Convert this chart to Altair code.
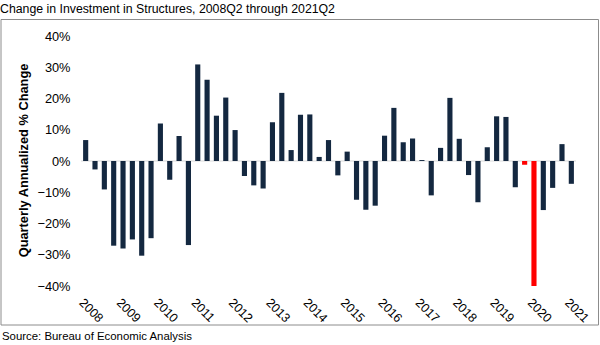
import altair as alt
import pandas as pd

quarters = [f"{y}Q{q}" for y in range(2008, 2022) for q in range(1, 5)]
quarters = quarters[1:quarters.index("2021Q2") + 1]

values = [6.7, -2.7, -9.1,
          -27.1, -28.0, -25.1, -30.3,
          -24.7, 12.0, -6.0, 8.0,
          -26.9, 30.9, 26.0, 14.5,
          20.3, 9.9, -4.8, -7.8,
          -8.8, 12.4, 21.8, 3.5,
          14.8, 14.9, 1.3, 6.7,
          -4.6, 3.0, -12.4, -15.6,
          -14.3, 8.1, 17.0, 6.0,
          7.2, 0.3, -11.0, 4.2,
          20.2, 7.1, -4.5, -13.2,
          4.4, 14.3, 14.1, -8.4,
          -1.2, -40.0, -15.7, -8.6,
          5.4, -7.3]

highlight_quarters = ["2020Q1", "2020Q2"]

y_ticks = [-40, -30, -20, -10, 0, 10, 20, 30, 40]

title_text = "Change in Investment in Structures, 2008Q2 through 2021Q2"
source_text = "Source: Bureau of Economic Analysis"
y_title = "Quarterly Annualized % Change"

df = pd.DataFrame({
    "quarter": quarters,
    "value": values,
    "group": ["covid" if q in highlight_quarters else "normal" for q in quarters],
})

NAVY = "#142840"
RED = "#FF0000"

x_enc = alt.X(
    "quarter:N",
    sort=quarters,
    scale=alt.Scale(paddingInner=0.45, paddingOuter=0.225),
    axis=alt.Axis(
        title=None,
        domain=False,
        ticks=False,
        tickSize=0,
        labelAngle=45,
        labelAlign="left",
        labelBaseline="top",
        labelPadding=10,
        labelFontSize=12.5,
        labelColor="#000000",
        labelOverlap=False,
        labelBound=False,
        labelFlush=False,
        labelExpr="indexof(datum.value, 'Q2') > 0 ? substring(datum.value, 0, 4) : ''",
    ),
)

y_scale = alt.Scale(domain=[-40, 40], nice=False)
y_axis = alt.Axis(
    title=y_title,
    values=y_ticks,
    domain=False,
    ticks=False,
    tickSize=0,
    grid=False,
    labelPadding=11,
    labelFontSize=12.8,
    labelColor="#000000",
    labelExpr="format(datum.value, 'd') + '%'",
    titleFontSize=12.8,
    titleFontWeight="bold",
    titleColor="#000000",
    titleAngle=270,
    titleX=-58,
    titleY=124,
    titleBaseline="middle",
    titleAlign="center",
)

zero_rule = alt.Chart(pd.DataFrame({"value": [0]})).mark_rule(
    color="#d9d9d9", strokeWidth=1
).encode(y=alt.Y("value:Q", scale=y_scale, axis=y_axis))

bars = alt.Chart(df).mark_bar().encode(
    x=x_enc,
    y=alt.Y("value:Q", scale=y_scale, axis=y_axis),
    color=alt.Color(
        "group:N",
        scale=alt.Scale(domain=["normal", "covid"], range=[NAVY, RED]),
        legend=None,
    ),
)

one = pd.DataFrame({"t": [title_text], "s": [source_text]})

frame = alt.Chart(one).mark_rect(
    fill=None, fillOpacity=0, stroke="#8c8c8c", strokeWidth=1
).encode(
    x=alt.value(-80), x2=alt.value(517.5), y=alt.value(-16.5), y2=alt.value(289)
)

title = alt.Chart(one).mark_text(
    align="left", baseline="alphabetic", fontSize=12.3, color="#000000"
).encode(text="t:N", x=alt.value(-81), y=alt.value(-23.5))

source = alt.Chart(one).mark_text(
    align="left", baseline="alphabetic", fontSize=11.4, color="#000000"
).encode(text="s:N", x=alt.value(-79), y=alt.value(304))

chart = alt.layer(frame, zero_rule, bars, title, source).properties(
    width=495,
    height=250,
    autosize=alt.AutoSizeParams(type="none"),
    padding={"left": 81, "top": 36, "right": 24, "bottom": 59},
).configure(
    font="Liberation Sans",
).configure_view(
    stroke=None
)

chart.save("out.html", embed_options={"renderer": "svg", "actions": False})
